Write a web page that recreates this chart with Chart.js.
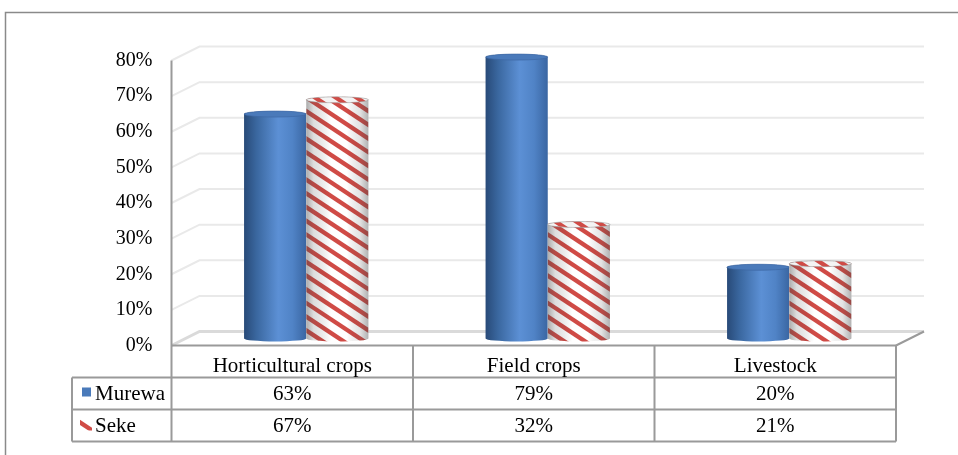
<!DOCTYPE html>
<html>
<head>
<meta charset="utf-8">
<script src="https://cdn.jsdelivr.net/npm/chart.js@4.4.1/dist/chart.umd.min.js"></script>
<style>
  html, body { margin: 0; padding: 0; background: #ffffff; }
  #wrap { width: 958px; height: 455px; position: relative; }
  canvas { display: block; }
</style>
</head>
<body>
<div id="wrap"><canvas id="chart" width="958" height="455"></canvas></div>
<script>
// Share of households by enterprise type, per district
const categories = ['Horticultural crops', 'Field crops', 'Livestock'];
const seriesNames = ['Murewa', 'Seke'];
const murewa = [63, 79, 20];
const seke = [67, 32, 21];
const yMin = 0;
const yMax = 80;
const yStep = 10;

// 3D box: half depth offsets between the middle plane (bars) and front/back planes
const DX = 14;
const DY = 7;
const FONT_FAMILY = '"Liberation Serif", "Times New Roman", serif';
const FONT = '21px ' + FONT_FAMILY;
const RED = '#d04b46';
const GRID = '#e9e9e9';
const EDGE = '#9a9a9a';

function blueGradient(ctx, l, r) {
  const g = ctx.createLinearGradient(l, 0, r, 0);
  g.addColorStop(0, '#284a78');
  g.addColorStop(0.2, '#3a679f');
  g.addColorStop(0.55, '#5c90d5');
  g.addColorStop(0.78, '#5083c6');
  g.addColorStop(1, '#3a66a2');
  return g;
}

function shadeGradient(ctx, l, r) {
  const g = ctx.createLinearGradient(l, 0, r, 0);
  g.addColorStop(0, 'rgba(70,70,70,0.45)');
  g.addColorStop(0.12, 'rgba(70,70,70,0.18)');
  g.addColorStop(0.4, 'rgba(0,0,0,0)');
  g.addColorStop(0.65, 'rgba(0,0,0,0)');
  g.addColorStop(0.86, 'rgba(70,70,70,0.15)');
  g.addColorStop(1, 'rgba(70,70,70,0.42)');
  return g;
}

// diagonal red bands running from upper left to lower right
function drawStripes(ctx, l, r, t, b) {
  const P = 13.7, T = 5.2, S = 0.66;
  const w = r - l;
  let c = b - P * Math.ceil((b - (t - w * S)) / P) - P;
  ctx.fillStyle = RED;
  for (; c < b + P; c += P) {
    ctx.beginPath();
    ctx.moveTo(l, c);
    ctx.lineTo(r, c + w * S);
    ctx.lineTo(r, c + w * S + T);
    ctx.lineTo(l, c + T);
    ctx.closePath();
    ctx.fill();
  }
}

function bodyPath(ctx, cx, top, base, rx, ry) {
  ctx.beginPath();
  ctx.moveTo(cx - rx, top);
  ctx.lineTo(cx - rx, base);
  ctx.ellipse(cx, base, rx, ry, 0, Math.PI, 0, true);
  ctx.lineTo(cx + rx, top);
  ctx.ellipse(cx, top, rx, ry, 0, 0, Math.PI, true);
  ctx.closePath();
}

function drawCylinder(ctx, cx, top, base, width, striped) {
  const rx = width / 2, ry = 3;
  const l = cx - rx, r = cx + rx;
  ctx.save();
  bodyPath(ctx, cx, top, base, rx, ry);
  if (!striped) {
    ctx.fillStyle = blueGradient(ctx, l, r);
    ctx.fill();
    ctx.beginPath();
    ctx.ellipse(cx, top, rx, ry, 0, 0, Math.PI * 2);
    ctx.fillStyle = '#4a7aba';
    ctx.fill();
    ctx.strokeStyle = 'rgba(60,100,160,0.8)';
    ctx.lineWidth = 0.8;
    ctx.stroke();
  } else {
    ctx.save();
    ctx.clip();
    ctx.fillStyle = '#ffffff';
    ctx.fillRect(l - 1, top - ry - 1, width + 2, base - top + 2 * ry + 2);
    drawStripes(ctx, l, r, top - ry, base + ry);
    ctx.fillStyle = shadeGradient(ctx, l, r);
    ctx.fillRect(l - 1, top - ry - 1, width + 2, base - top + 2 * ry + 2);
    ctx.restore();
    ctx.save();
    ctx.beginPath();
    ctx.ellipse(cx, top, rx, ry, 0, 0, Math.PI * 2);
    ctx.clip();
    ctx.fillStyle = '#f4f4f4';
    ctx.fillRect(l, top - ry, width, 2 * ry);
    drawStripes(ctx, l, r, top - ry - 6, top + ry);
    ctx.restore();
    ctx.beginPath();
    ctx.ellipse(cx, top, rx, ry, 0, 0, Math.PI * 2);
    ctx.strokeStyle = 'rgba(150,150,150,0.7)';
    ctx.lineWidth = 0.8;
    ctx.stroke();
  }
  ctx.restore();
}

const box3d = {
  id: 'box3d',
  beforeDatasetsDraw(chart) {
    const { ctx, chartArea: a, scales: { y } } = chart;
    ctx.save();
    // outer frame
    ctx.strokeStyle = '#8a8a8a';
    ctx.lineWidth = 1.5;
    ctx.beginPath();
    ctx.moveTo(5.5, 460);
    ctx.lineTo(5.5, 12.5);
    ctx.lineTo(965, 12.5);
    ctx.stroke();

    // back wall and side wall gridlines
    ctx.strokeStyle = GRID;
    ctx.lineWidth = 2;
    for (let v = yMin + yStep; v <= yMax; v += yStep) {
      const py = y.getPixelForValue(v);
      ctx.beginPath();
      ctx.moveTo(a.left - DX, py + DY);
      ctx.lineTo(a.left + DX, py - DY);
      ctx.lineTo(a.right + DX, py - DY);
      ctx.stroke();
    }
    // floor
    const p0 = y.getPixelForValue(0);
    ctx.strokeStyle = '#dadada';
    ctx.lineWidth = 3;
    ctx.beginPath();
    ctx.moveTo(a.left - DX, p0 + DY);
    ctx.lineTo(a.left + DX, p0 - DY);
    ctx.lineTo(a.right + DX, p0 - DY);
    ctx.stroke();
    ctx.strokeStyle = EDGE;
    ctx.lineWidth = 2;
    ctx.beginPath();
    ctx.moveTo(a.right - DX, p0 + DY);
    ctx.lineTo(a.right + DX, p0 - DY);
    ctx.stroke();
    ctx.restore();
  },
  afterDatasetsDraw(chart) {
    const ctx = chart.ctx;
    chart.data.datasets.forEach((ds, di) => {
      const meta = chart.getDatasetMeta(di);
      meta.data.forEach(bar => {
        const p = bar.getProps(['x', 'y', 'base', 'width'], true);
        drawCylinder(ctx, p.x, p.y, p.base, p.width, di === 1);
      });
    });
  },
  afterDraw(chart) {
    const { ctx, chartArea: a, scales: { x, y } } = chart;
    const p0 = y.getPixelForValue(0) + DY;
    const half = (a.right - a.left) / categories.length / 2;
    const rowH = 32;
    const rows = [p0, p0 + rowH, p0 + 2 * rowH, p0 + 3 * rowH];
    const colL = a.left - DX;
    const colR = a.right - DX;
    const keyL = 72;
    ctx.save();
    ctx.strokeStyle = EDGE;
    ctx.lineWidth = 2;
    // front axis line continuing down through the table
    ctx.beginPath();
    ctx.moveTo(colL, y.getPixelForValue(yMax) + DY);
    ctx.lineTo(colL, rows[3]);
    ctx.stroke();
    // horizontal rules
    ctx.beginPath();
    ctx.moveTo(colL, rows[0]); ctx.lineTo(colR, rows[0]);
    for (let i = 1; i <= 3; i++) {
      ctx.moveTo(keyL, rows[i]); ctx.lineTo(colR, rows[i]);
    }
    // vertical rules
    ctx.moveTo(keyL, rows[1]); ctx.lineTo(keyL, rows[3]);
    for (let i = 0; i < categories.length; i++) {
      const cr = x.getPixelForValue(i) + half - DX;
      ctx.moveTo(cr, rows[0]); ctx.lineTo(cr, rows[3]);
    }
    ctx.stroke();

    // cell texts
    ctx.fillStyle = '#000000';
    ctx.font = FONT;
    ctx.textAlign = 'center';
    ctx.textBaseline = 'alphabetic';
    const values = [murewa, seke];
    categories.forEach((c, i) => {
      const cx = x.getPixelForValue(i) - DX;
      ctx.fillText(c, cx, rows[0] + 26.5);
      values.forEach((vals, s) => {
        ctx.fillText(vals[i] + '%', cx, rows[s + 1] + 22.5);
      });
    });
    // legend keys
    ctx.textAlign = 'left';
    ctx.fillStyle = '#4a7aba';
    ctx.fillRect(82, rows[1] + 10, 9, 9);
    ctx.fillStyle = '#000000';
    ctx.fillText(seriesNames[0], 95, rows[1] + 22.5);
    ctx.save();
    ctx.beginPath();
    ctx.rect(80, rows[2] + 10, 12, 11);
    ctx.clip();
    drawStripes(ctx, 80, 92, rows[2] + 4, rows[2] + 24);
    ctx.restore();
    ctx.fillStyle = '#000000';
    ctx.fillText(seriesNames[1], 95, rows[2] + 22.5);
    ctx.restore();
  }
};

new Chart(document.getElementById('chart'), {
  type: 'bar',
  data: {
    labels: categories,
    datasets: [
      { label: seriesNames[0], data: murewa, backgroundColor: 'rgba(0,0,0,0)', borderWidth: 0 },
      { label: seriesNames[1], data: seke, backgroundColor: 'rgba(0,0,0,0)', borderWidth: 0 }
    ]
  },
  options: {
    responsive: false,
    devicePixelRatio: 1,
    animation: false,
    events: [],
    layout: { padding: { left: 0, right: 48, top: 53.5, bottom: 116.5 } },
    datasets: { bar: { categoryPercentage: 0.515, barPercentage: 1 } },
    plugins: { legend: { display: false }, tooltip: { enabled: false } },
    scales: {
      x: { display: false },
      y: {
        min: yMin,
        max: yMax,
        afterFit(scale) { scale.width = 185.5; },
        grid: { display: false, drawTicks: false, tickLength: 0 },
        border: { display: false },
        ticks: {
          stepSize: yStep,
          padding: 33,
          labelOffset: DY,
          color: '#000000',
          font: { family: FONT_FAMILY, size: 20 },
          callback: v => v + '%'
        }
      }
    }
  },
  plugins: [box3d]
});
</script>
</body>
</html>
